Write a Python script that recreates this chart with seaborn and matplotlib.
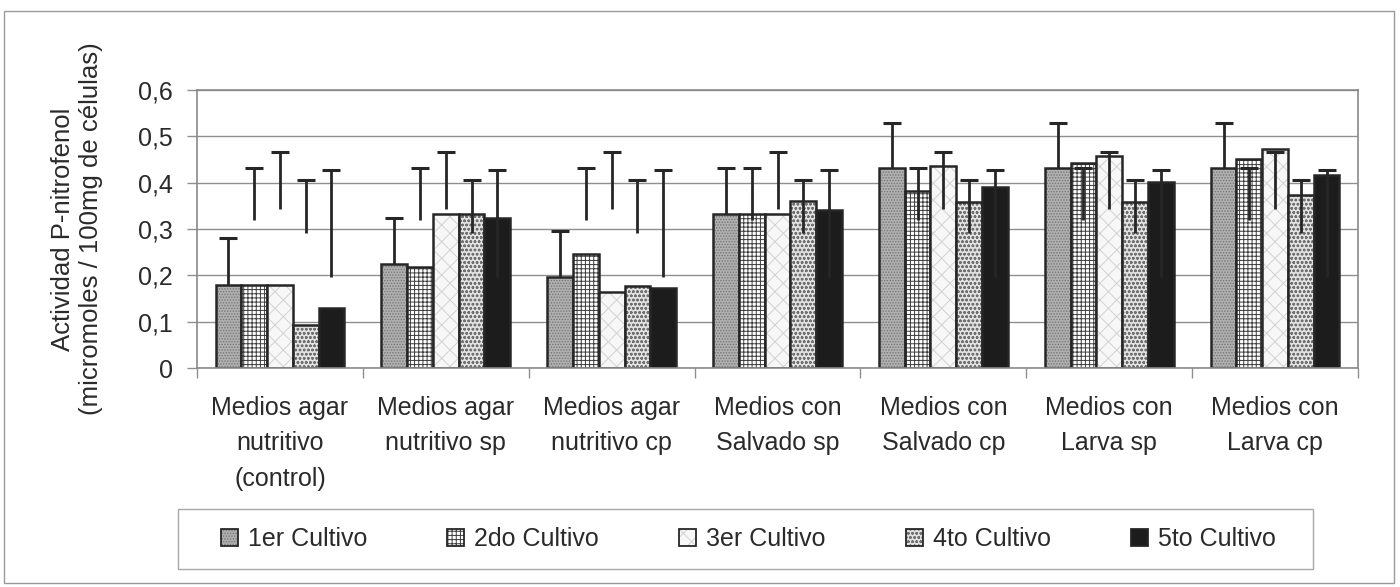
import numpy as np
import pandas as pd
import matplotlib
matplotlib.use("Agg")
import matplotlib.pyplot as plt
import matplotlib.ticker as ticker
from matplotlib.colors import to_rgba
from matplotlib.patches import Rectangle, Patch
import seaborn as sns

# ── Data ──────────────────────────────────────────────────────────────────────

CATEGORIES = [
    "Medios agar\nnutritivo\n(control)",
    "Medios agar\nnutritivo sp",
    "Medios agar\nnutritivo cp",
    "Medios con\nSalvado sp",
    "Medios con\nSalvado cp",
    "Medios con\nLarva sp",
    "Medios con\nLarva cp",
]
SERIES = ["1er Cultivo", "2do Cultivo", "3er Cultivo", "4to Cultivo", "5to Cultivo"]

CULTIVO_1 = [0.180, 0.224, 0.197, 0.332, 0.431, 0.431, 0.431]
CULTIVO_2 = [0.180, 0.218, 0.245, 0.332, 0.381, 0.442, 0.452]
CULTIVO_3 = [0.180, 0.333, 0.165, 0.332, 0.436, 0.457, 0.472]
CULTIVO_4 = [0.093, 0.333, 0.176, 0.360, 0.359, 0.359, 0.374]
CULTIVO_5 = [0.130, 0.324, 0.172, 0.340, 0.391, 0.401, 0.416]

# error bars: lower and upper end of each whisker
ERR_LO_1 = [0.180, 0.224, 0.197, 0.332, 0.431, 0.431, 0.431]
ERR_HI_1 = [0.281, 0.323, 0.296, 0.431, 0.528, 0.528, 0.528]
ERR_LO_2 = [0.320, 0.320, 0.320, 0.320, 0.320, 0.320, 0.320]
ERR_HI_2 = [0.431, 0.431, 0.431, 0.431, 0.431, 0.431, 0.431]
ERR_LO_3 = [0.343, 0.343, 0.343, 0.343, 0.343, 0.343, 0.343]
ERR_HI_3 = [0.467, 0.467, 0.467, 0.467, 0.467, 0.467, 0.467]
ERR_LO_4 = [0.291, 0.291, 0.291, 0.291, 0.291, 0.291, 0.291]
ERR_HI_4 = [0.406, 0.406, 0.406, 0.406, 0.406, 0.406, 0.406]
ERR_LO_5 = [0.197, 0.197, 0.197, 0.197, 0.197, 0.197, 0.197]
ERR_HI_5 = [0.427, 0.427, 0.427, 0.427, 0.427, 0.427, 0.427]

VALUES = [CULTIVO_1, CULTIVO_2, CULTIVO_3, CULTIVO_4, CULTIVO_5]
ERR_LO = [ERR_LO_1, ERR_LO_2, ERR_LO_3, ERR_LO_4, ERR_LO_5]
ERR_HI = [ERR_HI_1, ERR_HI_2, ERR_HI_3, ERR_HI_4, ERR_HI_5]

Y_TICKS = [0.0, 0.1, 0.2, 0.3, 0.4, 0.5, 0.6]

# ── Styling ───────────────────────────────────────────────────────────────────

FACE = {
    "1er Cultivo": "#b0b0b0",
    "2do Cultivo": "#ffffff",
    "3er Cultivo": "#f7f7f7",
    "4to Cultivo": "#e2e2e2",
    "5to Cultivo": "#1c1c1c",
}
HATCH = {
    "1er Cultivo": "......",
    "2do Cultivo": "++++",
    "3er Cultivo": "xx",
    "4to Cultivo": "oooo",
    "5to Cultivo": "",
}
HATCH_COLOR = {
    "1er Cultivo": "#777777",
    "2do Cultivo": "#3c3c3c",
    "3er Cultivo": "#d2d2d2",
    "4to Cultivo": "#707070",
    "5to Cultivo": "#1c1c1c",
}
EDGE = "#262626"
TEXT = "#2a2a2a"
GRID = "#8f8f8f"
FS = 18


def set_hatch_colour(patch, colour):
    if hasattr(patch, "set_hatchcolor"):
        patch.set_hatchcolor(colour)
    else:
        patch._hatch_color = to_rgba(colour)


# ── Long table for seaborn ────────────────────────────────────────────────────

df = pd.DataFrame({
    "medio": CATEGORIES * len(SERIES),
    "cultivo": np.repeat(SERIES, len(CATEGORIES)),
    "actividad": np.concatenate(VALUES),
})

sns.set_theme(style="white")
plt.rcParams["font.family"] = ["Liberation Sans", "DejaVu Sans"]
plt.rcParams["hatch.linewidth"] = 0.7

fig = plt.figure(figsize=(14, 5.87), dpi=100)
ax = fig.add_axes([197 / 1400, 1 - 368 / 587, (1358 - 197) / 1400, (368 - 90) / 587])

sns.barplot(
    data=df, x="medio", y="actividad", hue="cultivo",
    order=CATEGORIES, hue_order=SERIES, palette=FACE,
    width=0.776, errorbar=None, saturation=1, legend=False,
    linewidth=1.8, ax=ax,
)

# patterns + whiskers
for s, container, lo, hi in zip(SERIES, ax.containers, ERR_LO, ERR_HI):
    xs = []
    for bar in container:
        bar.set_facecolor(FACE[s])
        bar.set_edgecolor(EDGE)
        bar.set_linewidth(1.8)
        bar.set_hatch(HATCH[s])
        set_hatch_colour(bar, HATCH_COLOR[s])
        xs.append(bar.get_x() + bar.get_width() / 2)
    ax.vlines(xs, lo, hi, colors=EDGE, linewidth=2.0, zorder=4)
    ax.plot(xs, hi, linestyle="none", marker="_", markersize=12.5,
            markeredgewidth=2.2, color=EDGE, zorder=4)

# ── Axes ──────────────────────────────────────────────────────────────────────

ax.set_xlim(-0.5, len(CATEGORIES) - 0.5)
ax.set_ylim(0, 0.6)
ax.set_yticks(Y_TICKS)
ax.yaxis.set_major_formatter(ticker.FuncFormatter(
    lambda v, _: "0" if abs(v) < 1e-9 else f"{v:.1f}".replace(".", ",")))
ax.yaxis.grid(True, color=GRID, linewidth=1.0)
ax.set_axisbelow(True)

ax.set_xticks(np.arange(-0.5, len(CATEGORIES)), minor=True)
ax.tick_params(axis="x", which="major", length=0, pad=20,
               labelsize=FS, labelcolor=TEXT)
ax.tick_params(axis="x", which="minor", length=7, width=1, color=GRID,
               direction="out", bottom=True)
ax.tick_params(axis="y", which="major", length=7, width=1, color=GRID,
               direction="out", left=True, pad=10.5,
               labelsize=FS, labelcolor=TEXT)
for lbl in ax.get_xticklabels():
    lbl.set_linespacing(1.6)

for sp in ax.spines.values():
    sp.set_visible(True)
    sp.set_color("#8a8a8a")
    sp.set_linewidth(1.2)

ax.set_xlabel("")
ax.set_ylabel("Actividad P-nitrofenol\n(micromoles / 100mg de células)",
              fontsize=18.5, color=TEXT, linespacing=1.2)
ax.yaxis.set_label_coords(-0.081, 0.5)

# ── Legend ────────────────────────────────────────────────────────────────────

handles = []
for s in SERIES:
    h = Patch(facecolor=FACE[s], edgecolor=EDGE, linewidth=1.3, hatch=HATCH[s])
    set_hatch_colour(h, HATCH_COLOR[s])
    handles.append(h)

leg = fig.legend(
    handles, SERIES, loc="center left", ncol=5,
    bbox_to_anchor=(221 / 1400, 1 - 539 / 587),
    frameon=False, fontsize=FS,
    handlelength=0.68, handleheight=0.68, handletextpad=0.4,
    columnspacing=3.2, borderpad=0, borderaxespad=0,
)
for t in leg.get_texts():
    t.set_color(TEXT)

# legend frame and outer chart frame
fig.add_artist(Rectangle((178 / 1400, 1 - 569 / 587), 1135 / 1400, 60 / 587,
                         transform=fig.transFigure, fill=False,
                         edgecolor="#a8a8a8", linewidth=1.0))
fig.add_artist(Rectangle((4 / 1400, 1 - 583 / 587), 1390 / 1400, 572 / 587,
                         transform=fig.transFigure, fill=False,
                         edgecolor="#9a9a9a", linewidth=1.0))

fig.savefig("out.png", dpi=100)
